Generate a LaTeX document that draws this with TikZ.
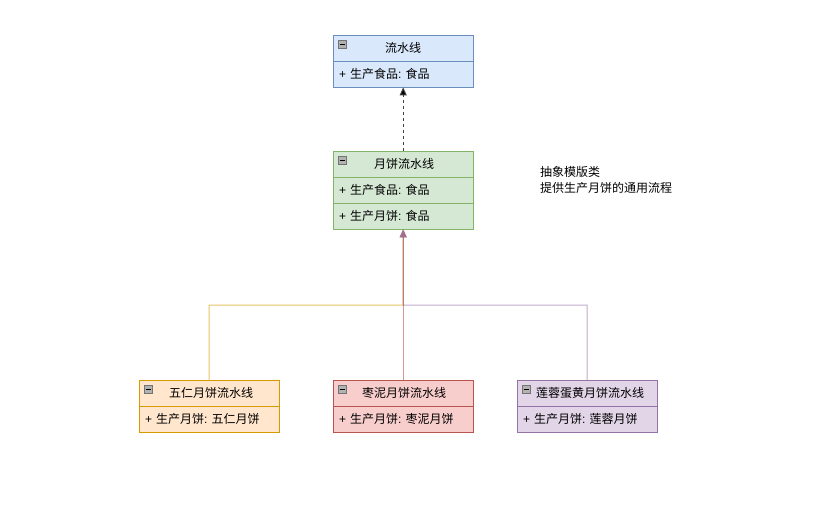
\documentclass[tikz,border=0pt]{standalone}
\usepackage{fontspec}
\setmainfont{Noto Sans CJK SC}
\newfontfamily\lat{Liberation Sans}
\usetikzlibrary{arrows.meta}
\definecolor{bfill}{HTML}{DAE8FC}\definecolor{bline}{HTML}{6C8EBF}
\definecolor{gfill}{HTML}{D5E8D4}\definecolor{gline}{HTML}{82B366}
\definecolor{ofill}{HTML}{FFE6CC}\definecolor{oline}{HTML}{D79B00}
\definecolor{rfill}{HTML}{F8CECC}\definecolor{rline}{HTML}{B85450}
\definecolor{pfill}{HTML}{E1D5E7}\definecolor{pline}{HTML}{9673A6}
\definecolor{tipc}{HTML}{A0708F}
\newcommand{\cl}{{\lat:\ }}
\newcommand{\pl}{{\lat+\ }}
\tikzset{
  hdr/.style={draw=#1line, fill=#1fill, minimum width=140pt, minimum height=26pt, anchor=north west, inner sep=0pt, font=\fontsize{12}{14}\selectfont},
  row/.style={draw=#1line, fill=#1fill, minimum width=140pt, minimum height=26pt, anchor=north west, inner sep=0pt, text width=128pt, align=left, font=\fontsize{12}{14}\selectfont},
  note/.style={anchor=north west, inner sep=0pt, align=left, font=\fontsize{12}{16}\selectfont},
  edge/.style={line width=1pt, draw=#1, draw opacity=0.6, -{Triangle[length=8pt,width=7pt,fill=tipc,color=tipc]}},
}
\newcommand{\collapseicon}[1]{%
  \fill[gray!60, draw=gray!90!black, line width=0.5pt] ([shift={(5pt,-5pt)}]#1.north west) rectangle ++(8pt,-8pt);
  \draw[black, line width=1pt] ([shift={(6.5pt,-9pt)}]#1.north west) -- ++(5pt,0);
}
\begin{document}
\begin{tikzpicture}[x=1pt,y=-1pt]
\useasboundingbox (0,0) rectangle (838,517);
% base class
\node[hdr=b] (h1) at (333,35) {流水线};
\node[row=b] (r1) at (333,61) {\pl 生产食品\cl 食品};
\collapseicon{h1}
% abstract template
\node[hdr=g] (h2) at (333,151) {\hspace*{2pt}月饼流水线};
\node[row=g] (r2a) at (333,177) {\pl 生产食品\cl 食品};
\node[row=g] (r2b) at (333,203) {\pl 生产月饼\cl 食品};
\collapseicon{h2}
% children
\node[hdr=o] (h3) at (139,380) {\hspace*{4pt}五仁月饼流水线};
\node[row=o] (r3) at (139,406) {\pl 生产月饼\cl 五仁月饼};
\collapseicon{h3}
\node[hdr=r] (h4) at (333,380) {\hspace*{2pt}枣泥月饼流水线};
\node[row=r] (r4) at (333,406) {\pl 生产月饼\cl 枣泥月饼};
\collapseicon{h4}
\node[hdr=p] (h5) at (517,380) {\hspace*{6pt}莲蓉蛋黄月饼流水线};
\node[row=p] (r5) at (517,406) {\pl 生产月饼\cl 莲蓉月饼};
\collapseicon{h5}
% note
\node[note] (n1) at (540,166.5) {抽象模版类\\提供生产月饼的通用流程};
% connectors
\draw[dashed, line width=1pt, black!75, dash pattern=on 3pt off 3pt, -{Triangle[length=8pt,width=7pt,fill=black]}] (h2.north) -- (r1.south);
\coordinate (j) at (403,305);
\draw[edge=oline] (h3.north) |- (j) -- (r2b.south);
\draw[edge=pline] (h5.north) |- (j) -- (r2b.south);
\draw[edge=rline] (h4.north) -- (r2b.south);
\end{tikzpicture}
\end{document}
